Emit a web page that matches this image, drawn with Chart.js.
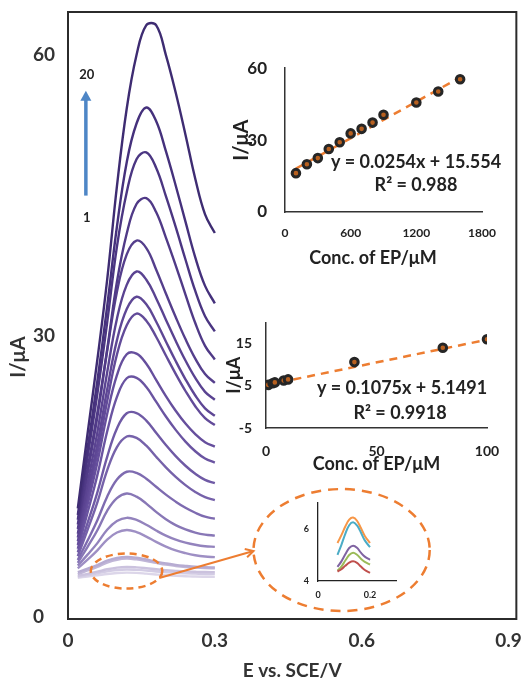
<!DOCTYPE html>
<html><head><meta charset="utf-8">
<script src="https://cdn.jsdelivr.net/npm/chart.js@4.4.1/dist/chart.umd.min.js"></script>
<style>
html,body{margin:0;padding:0;background:#fff;}
#wrap{position:relative;width:532px;height:682px;overflow:hidden;}
canvas{position:absolute;}
</style></head>
<body><div id="wrap">
<canvas id="main" style="left:0;top:0" width="532" height="682"></canvas>
<canvas id="ins1" style="left:225px;top:40px" width="300" height="240"></canvas>
<canvas id="ins2" style="left:218px;top:300px" width="300" height="185"></canvas>
<canvas id="ins3" style="left:290px;top:488px" width="115" height="120"></canvas>
</div>
<script>
// ---------- main voltammograms ----------
const potential = [0.02,0.04,0.06,0.08,0.10,0.12,0.14,0.16,0.18,0.20,0.22,0.24,0.26,0.28,0.30];
const currents = [
  [4.2,4.33,4.46,4.61,4.71,4.75,4.72,4.64,4.55,4.47,4.41,4.37,4.33,4.31,4.3],
  [4.3,4.48,4.67,4.89,5.03,5.08,5.04,4.97,4.87,4.79,4.72,4.67,4.64,4.61,4.6],
  [4.4,4.62,4.85,5.11,5.29,5.35,5.31,5.22,5.11,5.01,4.94,4.88,4.84,4.81,4.8],
  [4.6,4.98,5.37,5.83,6.13,6.24,6.16,5.99,5.79,5.6,5.46,5.35,5.28,5.23,5.2],
  [4.8,5.17,5.56,6.02,6.31,6.42,6.34,6.15,5.93,5.74,5.58,5.47,5.38,5.33,5.3],
  [5.2,6.14,7.13,8.28,9.03,9.3,9.08,8.6,8.03,7.53,7.12,6.83,6.61,6.47,6.4],
  [5.5,6.67,7.9,9.33,10.26,10.6,10.37,9.86,9.25,8.7,8.27,7.96,7.73,7.57,7.5],
  [5.8,7.5,9.28,11.35,12.7,13.2,12.86,12.12,11.23,10.45,9.82,9.36,9.03,8.81,8.7],
  [6.1,8.18,10.34,12.86,14.68,15.52,15.4,14.78,13.92,13.08,12.33,11.67,11.14,10.72,10.5],
  [6.5,9.33,12.25,15.67,18.15,19.28,19.13,18.3,17.12,15.99,14.97,14.09,13.36,12.8,12.5],
  [6.9,10.06,13.32,17.11,20.13,21.76,21.79,20.98,19.68,18.37,17.19,16.16,15.3,14.65,14.3],
  [7.3,11.17,15.16,19.81,23.51,25.5,25.55,24.56,23.0,21.42,19.99,18.74,17.71,16.93,16.5],
  [7.7,12.03,16.5,21.69,25.83,28.07,28.13,27.04,25.33,23.6,22.03,20.66,19.53,18.67,18.2],
  [8.1,12.77,17.5,23.04,28.03,31.16,32.4,31.64,29.93,27.93,25.97,24.14,22.52,21.24,20.5],
  [8.5,13.43,18.45,24.31,29.57,32.89,34.2,33.39,31.56,29.43,27.34,25.39,23.66,22.29,21.5],
  [8.9,14.28,19.74,26.12,31.86,35.47,36.9,36.02,34.05,31.75,29.5,27.39,25.53,24.05,23.2],
  [9.4,15.33,21.36,28.4,34.74,38.72,40.2,39.4,37.12,34.55,32.04,29.68,27.6,25.95,25],
  [9.9,15.85,21.84,28.59,35.8,40.95,44.1,44.73,43.25,40.52,37.56,34.43,31.4,28.96,27.5],
  [10.4,17.1,23.84,31.44,39.56,45.35,48.89,49.61,47.97,44.94,41.66,38.18,34.82,32.12,30.5],
  [10.9,18.03,25.21,33.17,41.7,48.57,52.7,54.4,52.96,49.74,46.08,42.22,38.41,35.36,33.5],
  [11.6,19.6,27.5,36,46,54.3,60,63.2,63.2,60,56,51.5,46.8,43,41]
];
const mainXTicks = [0,0.3,0.6,0.9];
const mainYTicks = [0,30,60];

// ---------- calibration, high range ----------
const concHigh = [100,200,300,400,500,600,700,800,900,1200,1400,1600];
const currentHigh = [16.2,19.9,22.5,26.3,29.1,32.8,34.7,37.3,40.6,45.7,50.3,55.4];
const trendHighX = [100,1600];
const trendHighY = [18.09,56.19];
const highXTicks = [0,600,1200,1800];
const highYTicks = [0,30,60];

// ---------- calibration, low range ----------
const concLow = [1,3,4,8,10,40,80,100];
const currentLow = [5.2,5.6,5.8,6.25,6.5,10.6,14.0,16.0];
const trendLowX = [0,100];
const trendLowY = [5.15,15.90];
const lowXTicks = [0,50,100];
const lowYTicks = [-5,5,15];

// ---------- zoomed first curves ----------
const zoomPotential = [0.075,0.09,0.105,0.12,0.135,0.15,0.165,0.18,0.20];
const zoomRed    = [4.36,4.45,4.58,4.70,4.75,4.69,4.55,4.42,4.31];
const zoomGreen  = [4.39,4.55,4.78,4.99,5.08,5.00,4.85,4.73,4.63];
const zoomPurple = [4.54,4.75,5.02,5.26,5.35,5.27,5.08,4.93,4.81];
const zoomAqua   = [5.00,5.38,5.80,6.13,6.24,6.12,5.85,5.55,5.29];
const zoomOrange = [5.45,5.75,6.08,6.34,6.42,6.30,6.02,5.72,5.45];
const zoomXTicks = [0,0.2];
const zoomYTicks = [4,6];

// ---------- styles ----------
const curveColors = ['#dcd6e9','#d3cce4','#cbc2de','#c0b6d7','#b7acd2','#9e8fc4','#9383bd','#8877b6','#7e6bb0','#7662aa','#6f5aa5','#6a54a1','#664f9d','#624b99','#5e4795','#5a4391','#553f8c','#503a87','#4b3682','#45317c','#3e2c72'];
const FONT = 'Lato, "Open Sans", sans-serif';
const ORANGE = '#ed7d31';
const pts = (xs, ys) => xs.map((v,i)=>({x:v, y:ys[i]}));
const fixTicks = list => scale => { scale.ticks = list.map(v=>({value:v})); };
const plain = v => String(v);
Chart.defaults.font.family = FONT;

function textPlugin(id, items){
  return {id, afterDraw(chart){
    const ctx = chart.ctx; ctx.save();
    items.forEach(t=>{
      ctx.font = t.font; ctx.fillStyle = t.color || '#222';
      ctx.textAlign='center'; ctx.textBaseline='middle';
      ctx.save(); ctx.translate(t.x, t.y); if(t.rot) ctx.rotate(t.rot);
      ctx.fillText(t.text, 0, 0); ctx.restore();
    });
    ctx.restore();
  }};
}

const mainDecor = {
  id:'mainDecor',
  afterDraw(chart){
    const {ctx, chartArea:a, scales:{x,y}} = chart;
    ctx.save();
    ctx.strokeStyle='#2b2b2b'; ctx.lineWidth=2;
    ctx.strokeRect(a.left, a.top, a.right-a.left, a.bottom-a.top);
    // blue arrow
    const ax = x.getPixelForValue(0.0365), ay0 = y.getPixelForValue(45.0), ay1 = y.getPixelForValue(56.2);
    ctx.strokeStyle='#4e86c6'; ctx.fillStyle='#4e86c6'; ctx.lineWidth=3.5;
    ctx.beginPath(); ctx.moveTo(ax, ay0); ctx.lineTo(ax, ay1+8); ctx.stroke();
    ctx.beginPath(); ctx.moveTo(ax, ay1); ctx.lineTo(ax-5.5, ay1+10); ctx.lineTo(ax+5.5, ay1+10); ctx.closePath(); ctx.fill();
    ctx.fillStyle='#222'; ctx.font='bold 13px '+FONT; ctx.textAlign='center'; ctx.textBaseline='middle';
    ctx.fillText('20', ax+1, y.getPixelForValue(57.9));
    ctx.fillText('1', ax+1, y.getPixelForValue(42.6));
    // ellipses
    ctx.strokeStyle=ORANGE; ctx.lineWidth=2.5;
    const ell = (ex, ey, rxv, ryv, dash) => {
      const cx = x.getPixelForValue(ex), cy = y.getPixelForValue(ey);
      const rx = x.getPixelForValue(ex+rxv)-cx, ry = cy - y.getPixelForValue(ey+ryv);
      ctx.setLineDash(dash); ctx.beginPath(); ctx.ellipse(cx, cy, rx, ry, 0, 0, Math.PI*2); ctx.stroke();
    };
    ell(0.1196, 4.92, 0.073, 1.87, [7,5]);
    ell(0.559, 7.16, 0.180, 6.51, [10,7]);
    // orange arrow
    ctx.setLineDash([]); ctx.lineWidth=2;
    const p0x = x.getPixelForValue(0.1864), p0y = y.getPixelForValue(4.18);
    const p1x = x.getPixelForValue(0.379), p1y = y.getPixelForValue(7.06);
    ctx.beginPath(); ctx.moveTo(p0x,p0y); ctx.lineTo(p1x,p1y); ctx.stroke();
    const th = Math.atan2(p1y-p0y, p1x-p0x);
    ctx.beginPath();
    ctx.moveTo(p1x - 9*Math.cos(th-0.5), p1y - 9*Math.sin(th-0.5));
    ctx.lineTo(p1x, p1y);
    ctx.lineTo(p1x - 9*Math.cos(th+0.5), p1y - 9*Math.sin(th+0.5));
    ctx.stroke();
    // y title
    ctx.fillStyle='#333'; ctx.font='bold 20px '+FONT;
    ctx.translate(19, y.getPixelForValue(27.76)); ctx.rotate(-Math.PI/2);
    ctx.fillText('I/μA', 0, 0);
    ctx.restore();
  }
};

new Chart(document.getElementById('main'), {
  type:'line',
  data:{ datasets: currents.map((c,k)=>({
    data: pts(potential, c), borderColor: curveColors[k], borderWidth:2.4,
    pointRadius:0, tension:0.4, fill:false, order: 21-k
  }))},
  options:{
    responsive:false, animation:false, events:[],
    layout:{padding:{left:33, top:12, right:12, bottom:0}},
    plugins:{legend:{display:false}, tooltip:{enabled:false}},
    scales:{
      x:{type:'linear', min:0, max:0.916, afterBuildTicks: fixTicks(mainXTicks),
         afterFit(s){ s.height = 63; },
         grid:{display:false, drawTicks:false}, border:{display:false},
         ticks:{padding:10, font:{weight:'bold', size:19}, color:'#333', maxRotation:0, autoSkip:false, callback:plain},
         title:{display:true, text:'E vs. SCE/V', font:{weight:'bold', size:19}, color:'#333', padding:0}},
      y:{min:-0.2, max:64.6, afterBuildTicks: fixTicks(mainYTicks),
         afterFit(s){ s.width = 35; },
         grid:{display:false, drawTicks:false}, border:{display:false},
         ticks:{crossAlign:'far', padding:0, font:{weight:'bold', size:19}, color:'#333', callback:plain}}
    }
  },
  plugins:[mainDecor]
});

// ---------- inset 1 ----------
new Chart(document.getElementById('ins1'), {
  type:'scatter',
  data:{datasets:[
    {type:'line', data: pts(trendHighX, trendHighY), borderColor:ORANGE, borderWidth:2.5, borderDash:[8,6], pointRadius:0, order:2},
    {type:'scatter', data: pts(concHigh, currentHigh), pointRadius:3.8, borderWidth:3, borderColor:'#262626', backgroundColor:'#b8601f', order:1}
  ]},
  options:{
    responsive:false, animation:false, events:[],
    layout:{padding:{left:5, top:22, right:43, bottom:38}},
    plugins:{legend:{display:false}, tooltip:{enabled:false}},
    scales:{
      x:{type:'linear', min:0, max:1800, afterBuildTicks: fixTicks(highXTicks), afterFit(s){ s.height = 30; },
         grid:{display:false, drawTicks:false}, border:{display:true, color:'#333', width:1.5},
         ticks:{padding:14, font:{weight:'bold', size:12}, color:'#222', maxRotation:0, autoSkip:false, callback:plain}},
      y:{min:0, max:60, afterBuildTicks: fixTicks(highYTicks), afterFit(s){ s.width = 55; },
         grid:{display:false, drawTicks:false}, border:{display:true, color:'#333', width:1.5},
         ticks:{padding:18, font:{weight:'bold', size:17}, color:'#222', callback:plain},
         title:{display:true, text:'I/μA', font:{weight:'bold', size:20}, color:'#222', padding:0}}
    }
  },
  plugins:[textPlugin('t1', [
    {text:'y = 0.0254x + 15.554', x:191, y:122, font:'bold 18px '+FONT},
    {text:'R² = 0.988', x:191, y:145, font:'bold 18px '+FONT},
    {text:'Conc. of EP/μM', x:148, y:218, font:'bold 18px '+FONT}
  ])]
});

// ---------- inset 2 ----------
new Chart(document.getElementById('ins2'), {
  type:'scatter',
  data:{datasets:[
    {type:'line', data: pts(trendLowX, trendLowY), borderColor:ORANGE, borderWidth:2.5, borderDash:[8,6], pointRadius:0, order:2},
    {type:'scatter', data: pts(concLow, currentLow), pointRadius:3.8, borderWidth:3, borderColor:'#262626', backgroundColor:'#b8601f', order:1}
  ]},
  options:{
    responsive:false, animation:false, events:[],
    layout:{padding:{left:5, top:16, right:31, bottom:10}},
    plugins:{legend:{display:false}, tooltip:{enabled:false}},
    scales:{
      x:{type:'linear', min:0, max:100, afterBuildTicks: fixTicks(lowXTicks), afterFit(s){ s.height = 47; },
         grid:{display:false, drawTicks:false}, border:{display:true, color:'#333', width:1.5},
         ticks:{padding:15, font:{weight:'bold', size:14}, color:'#222', maxRotation:0, autoSkip:false, callback:plain},
         title:{display:true, text:'Conc. of EP/μM', font:{weight:'bold', size:18}, color:'#222', padding:0}},
      y:{min:-5, max:20, afterBuildTicks: fixTicks(lowYTicks), afterFit(s){ s.width = 43; },
         grid:{display:false, drawTicks:false}, border:{display:true, color:'#333', width:1.5},
         ticks:{padding:14, font:{weight:'bold', size:14}, color:'#222', callback:plain},
         title:{display:true, text:'I/μA', font:{weight:'bold', size:18}, color:'#222', padding:0}}
    }
  },
  plugins:[textPlugin('t2', [
    {text:'y = 0.1075x + 5.1491', x:184, y:88, font:'bold 18px '+FONT},
    {text:'R² = 0.9918', x:182, y:113, font:'bold 18px '+FONT}
  ])]
});

// ---------- inset 3 (zoom) ----------
const zoomSeries = [zoomRed, zoomGreen, zoomPurple, zoomAqua, zoomOrange];
const zoomColors = ['#c0504d','#9bbb59','#8064a2','#4bacc6','#f79646'];
new Chart(document.getElementById('ins3'), {
  type:'line',
  data:{datasets: zoomSeries.map((s,k)=>({data: pts(zoomPotential, s), borderColor: zoomColors[k], borderWidth:2, pointRadius:0, tension:0.4}))},
  options:{
    responsive:false, animation:false, events:[],
    layout:{padding:{left:0, top:9, right:9, bottom:7}},
    plugins:{legend:{display:false}, tooltip:{enabled:false}},
    scales:{
      x:{type:'linear', min:0, max:0.3, afterBuildTicks: fixTicks(zoomXTicks), afterFit(s){ s.height = 20; },
         grid:{display:false, drawTicks:false}, border:{display:true, color:'#222', width:1.3},
         ticks:{padding:9, font:{weight:'bold', size:9}, color:'#222', maxRotation:0, autoSkip:false, callback:plain}},
      y:{min:4, max:7, afterBuildTicks: fixTicks(zoomYTicks), afterFit(s){ s.width = 28; },
         grid:{display:false, drawTicks:false}, border:{display:true, color:'#222', width:1.3},
         ticks:{padding:9, font:{weight:'bold', size:9}, color:'#222', callback:plain}}
    }
  }
});
</script>
</body></html>
